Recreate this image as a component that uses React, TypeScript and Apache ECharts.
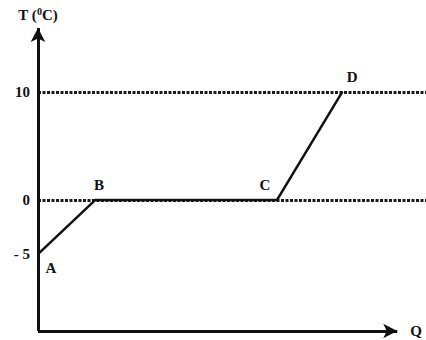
import React, { useEffect, useRef } from "react";
import * as echarts from "echarts";

const pointNames = ["A", "B", "C", "D"];
const qValues = [0, 15.9, 66.5, 84.7];
const tValues = [-5, 0, 0, 10];
const tickValues = [-5, 0, 10];
const refLevels = [10, 0];

const Y_MIN = -12.1;
const Y_MAX = 15.9;
const X_MAX = 108;
const X_ARROW = 100;
const FONT = "'Liberation Serif', 'DejaVu Serif', serif";

const labelPlace: Record<string, any> = {
  A: { position: "right", offset: [2, 14] },
  B: { position: "top", offset: [4, -2] },
  C: { position: "top", offset: [-12, -2] },
  D: { position: "top", offset: [10, -2] },
};

export default function App() {
  const ref = useRef<HTMLDivElement>(null);
  useEffect(() => {
    if (!ref.current) return;
    document.body.style.margin = "0";
    const chart = echarts.init(ref.current, undefined, { renderer: "svg" });
    const data = pointNames.map((n, i) => ({
      name: n,
      value: [qValues[i], tValues[i]],
      label: {
        show: true,
        formatter: n,
        fontFamily: FONT,
        fontWeight: "bold",
        fontSize: 15,
        color: "#111",
        ...labelPlace[n],
      },
    }));
    chart.setOption({
      animation: false,
      backgroundColor: "#fff",
      grid: { left: 38, right: 0, top: 28, bottom: 9 },
      xAxis: {
        type: "value",
        min: 0,
        max: X_MAX,
        show: false,
      },
      yAxis: {
        type: "value",
        min: Y_MIN,
        max: Y_MAX,
        splitLine: { show: false },
        axisLine: { show: false },
        axisTick: { show: false },
        axisLabel: {
          customValues: tickValues,
          margin: 8,
          fontFamily: FONT,
          fontWeight: "bold",
          fontSize: 15,
          color: "#111",
          formatter: (v: number) => (v < 0 ? "- " + Math.abs(v) : String(v)),
        },
      },
      series: [
        {
          type: "line",
          clip: false,
          data,
          symbol: "circle",
          symbolSize: 1,
          showSymbol: true,
          itemStyle: { color: "#111" },
          lineStyle: { color: "#111", width: 2.5 },
          z: 5,
          markLine: {
            silent: true,
            symbol: ["none", "none"],
            label: { show: false },
            lineStyle: { color: "#1a1a1a", type: [3, 1.5], width: 3 },
            data: refLevels.map((v) => ({ yAxis: v })),
          },
        },
        {
          type: "line",
          clip: false,
          data: [],
          markLine: {
            silent: true,
            symbol: ["none", "arrow"],
            symbolSize: [11, 14],
            lineStyle: { color: "#111", width: 3, type: "solid" },
            data: [
              [
                { coord: [0, Y_MIN] },
                {
                  coord: [X_ARROW, Y_MIN],
                  label: {
                    show: true,
                    position: "end",
                    formatter: "Q",
                    distance: 13,
                    fontFamily: FONT,
                    fontWeight: "bold",
                    fontSize: 15,
                    color: "#111",
                  },
                },
              ],
              [
                { coord: [0, Y_MIN] },
                {
                  coord: [0, Y_MAX],
                  label: {
                    show: true,
                    position: "end",
                    distance: 4,
                    formatter: "{t|T (}{s|0}{t|C)}",
                    rich: {
                      t: { fontFamily: FONT, fontWeight: "bold", fontSize: 15, color: "#111" },
                      s: { fontFamily: FONT, fontWeight: "bold", fontSize: 10, color: "#111", padding: [0, 0, 8, 0] },
                    },
                  },
                },
              ],
            ],
          },
        },
      ],
    });
    return () => chart.dispose();
  }, []);
  return <div ref={ref} style={{ width: 426, height: 340 }} />;
}
